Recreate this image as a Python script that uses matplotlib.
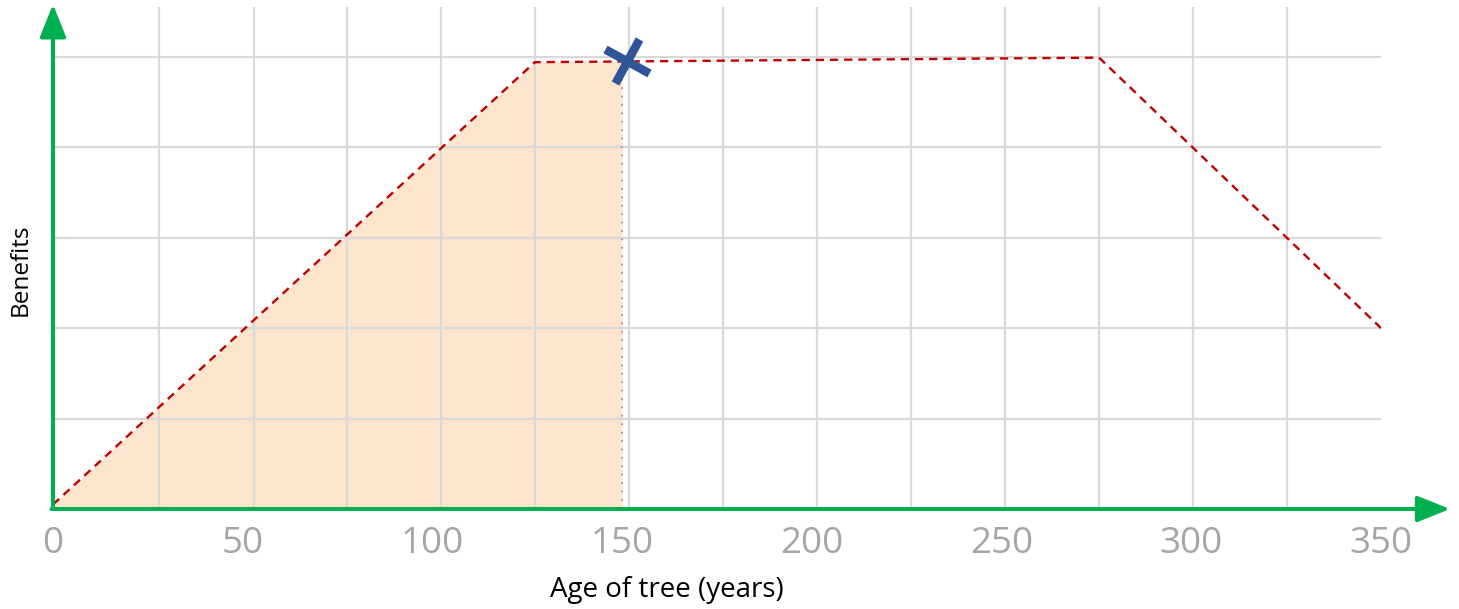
"""
Benefits of a tree over its lifetime.
Dashed benefit curve, shaded area up to the marked age, green arrow axes.
"""
import matplotlib
matplotlib.use("Agg")
import matplotlib.pyplot as plt
from matplotlib.markers import MarkerStyle
from matplotlib.transforms import Affine2D
import numpy as np

# ---------------- DATA ----------------
age = [0, 127, 275.7, 350]           # years
benefit = [0.05, 4.94, 4.99, 2.0]    # relative units (gridline = 1)

shade_until = 150                    # shaded area / dotted marker line
marker_age = 151.3
marker_benefit = 4.95

tick_values = [0, 50, 100, 150, 200, 250, 300, 350]
tick_labels = ["0", "50", "100", "150", "200", "250", "300", "350"]

grid_x = [27.9, 53.0, 77.5, 102.3, 127.0, 151.8, 176.6, 201.4,
          226.1, 250.9, 275.7, 300.5, 325.3, 350.0]
grid_y = [1, 2, 3, 4, 5]

# ---------------- STYLE ----------------
GREEN = "#00B050"
RED = "#C00000"
PEACH = "#FCE4CD"
BLUE = "#2F5597"
GRID = "#D9D9D9"
TICK_GREY = "#A6A6A6"

plt.rcParams["font.family"] = ["Open Sans", "DejaVu Sans"]

fig = plt.figure(figsize=(14.59, 6.09), dpi=100)
ax = fig.add_axes([53 / 1459, 100 / 609, 1328 / 1459, 502 / 609])
ax.set_xlim(0, 350)
ax.set_ylim(0, 5.55)

for s in ax.spines.values():
    s.set_visible(False)

# grid: vertical lines on minor ticks, horizontal on major y ticks
ax.set_xticks(grid_x, minor=True)
ax.set_yticks(grid_y)
ax.set_yticklabels([])
ax.grid(which="minor", axis="x", color=GRID, linewidth=1.6)
ax.grid(which="major", axis="y", color=GRID, linewidth=1.6)
ax.tick_params(which="both", length=0)

ax.set_xticks(tick_values)
ax.set_xticklabels(tick_labels, color=TICK_GREY, fontsize=26.5)
ax.tick_params(axis="x", pad=12)

# shaded area under the curve up to the marked age
xs = np.array([x for x in age if x < shade_until] + [shade_until])
ys = np.interp(xs, age, benefit)
ax.fill_between(xs, 0, ys, color=PEACH, linewidth=0)

# benefit curve
ax.plot(age, benefit, color=RED, linewidth=1.7, linestyle=(0, (3.5, 2.5)),
        zorder=3)

# dotted line down from the marked age
ax.plot([shade_until, shade_until], [0, np.interp(shade_until, age, benefit)],
        color="#7F7F7F", linewidth=1.1, linestyle=(0, (1, 4.5)), zorder=3)

# tilted cross marker
cross = MarkerStyle("x", transform=Affine2D().rotate_deg(17))
ax.plot([marker_age], [marker_benefit], marker=cross, markersize=25,
        markeredgewidth=6.2, color=BLUE, linestyle="none", zorder=5)

# green axes with arrow heads
arrow = dict(arrowstyle="-|>,head_length=1.0,head_width=0.4",
             color=GREEN, linewidth=2.9, mutation_scale=20,
             shrinkA=0, shrinkB=0)
ax.annotate("", xy=(0, 5.58), xytext=(0, 0), arrowprops=arrow,
            annotation_clip=False, zorder=6)
ax.annotate("", xy=(368.2, 0), xytext=(-0.4, 0), arrowprops=arrow,
            annotation_clip=False, zorder=6)

# axis titles
ax.set_xlabel("Age of tree (years)", fontsize=20, color="black")
ax.xaxis.set_label_coords(0.4623, -0.161)
ax.xaxis.label.set_verticalalignment("center")
ax.set_ylabel("Benefits", fontsize=17.5, color="black")
ax.yaxis.set_label_coords(-0.0241, 0.476)
ax.yaxis.label.set_verticalalignment("center")

fig.savefig("out.png", dpi=100)
